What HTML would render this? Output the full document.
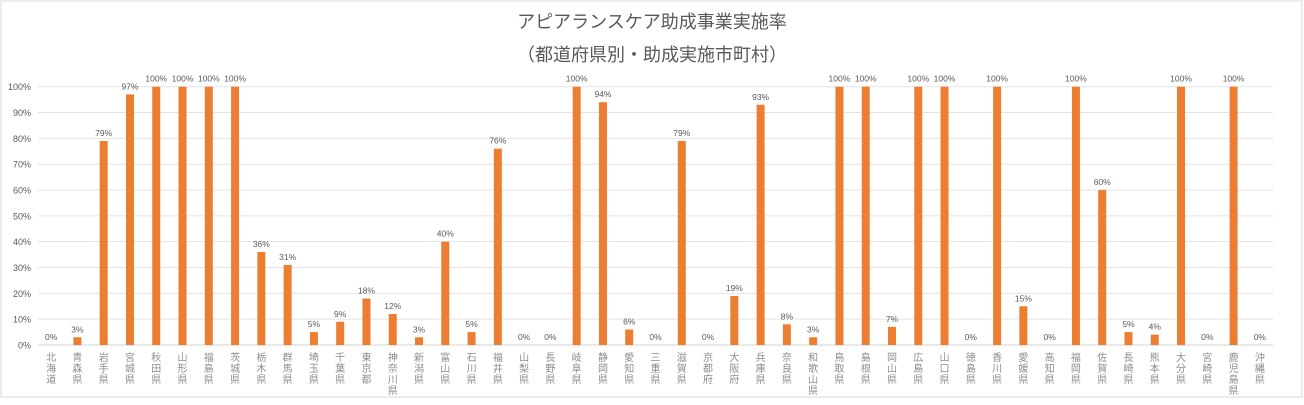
<!DOCTYPE html>
<html><head><meta charset="utf-8"><style>
body{margin:0;background:#fff;}
svg text{font-family:"Liberation Sans","Noto Sans CJK JP",sans-serif;}
</style></head><body>
<svg id="c" width="1304" height="400" xmlns="http://www.w3.org/2000/svg">
<rect x="1" y="1" width="1301" height="396" fill="#fff" stroke="#d9d9d9"/>
<text x="652" y="28" text-anchor="middle" font-size="18" fill="#595959">アピアランスケア助成事業実施率</text>
<text x="652" y="61" text-anchor="middle" font-size="18" fill="#595959">（都道府県別・助成実施市町村）</text>
<g id="grid"></g><g id="bars"></g><g id="labels"></g>
</svg>
<script>
const categories=["北海道","青森県","岩手県","宮城県","秋田県","山形県","福島県","茨城県","栃木県","群馬県","埼玉県","千葉県","東京都","神奈川県","新潟県","富山県","石川県","福井県","山梨県","長野県","岐阜県","静岡県","愛知県","三重県","滋賀県","京都府","大阪府","兵庫県","奈良県","和歌山県","鳥取県","島根県","岡山県","広島県","山口県","徳島県","香川県","愛媛県","高知県","福岡県","佐賀県","長崎県","熊本県","大分県","宮崎県","鹿児島県","沖縄県"];
const values=[0,3,79,97,100,100,100,100,36,31,5,9,18,12,3,40,5,76,0,0,100,94,6,0,79,0,19,93,8,3,100,100,7,100,100,0,100,15,0,100,60,5,4,100,0,100,0];
const ticks=[0,10,20,30,40,50,60,70,80,90,100];
const NS="http://www.w3.org/2000/svg";
const L=38,R=1273,T=86.7,B=345;
const bw=(R-L)/categories.length;
const y=v=>B-(B-T)*v/100;
const x=i=>L+bw*(i+0.5);
function mk(t,a,p){const e=document.createElementNS(NS,t);for(const k in a)e.setAttribute(k,a[k]);p.appendChild(e);return e;}
const g=document.getElementById('grid'),gb=document.getElementById('bars'),gl=document.getElementById('labels');
ticks.forEach(t=>{
 const l=mk('line',{x1:L,x2:R,y1:y(t),y2:y(t),stroke:t===0?'#d0d0d0':'#e3e3e3','stroke-width':1},g);
 
 
 const tx=mk('text',{x:31,y:y(t)+3.5,'text-anchor':'end','font-size':9,fill:'#595959'},g);
 tx.textContent=t+'%';
 
 
});
categories.forEach((c,i)=>{
 const v=values[i];
 const r=mk('rect',{x:x(i)-4,y:y(v),width:8,height:B-y(v),fill:'#ed7d31'},gb);
 
 
 const t=mk('text',{x:x(i),y:y(v)-5,'text-anchor':'middle','font-size':8.5,fill:'#595959'},gl);
 t.textContent=v+'%';
 
 
 const ct=mk('text',{'text-anchor':'middle','font-size':10,fill:'#8c8c8c'},gl);
 
 
 [...c].forEach((ch,k)=>{const s=mk('tspan',{x:x(i),y:361+k*11},ct);s.textContent=ch;});
});
</script>
</body></html>
